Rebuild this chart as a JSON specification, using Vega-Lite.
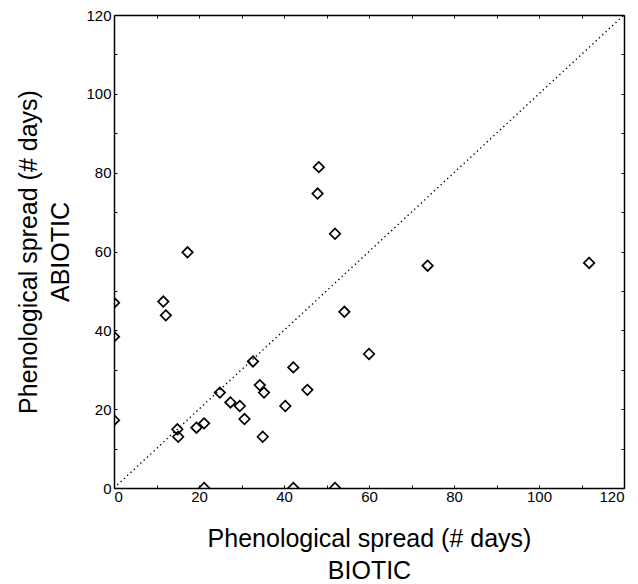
{
  "$schema": "https://vega.github.io/schema/vega-lite/v6.json",
  "autosize": "none",
  "padding": {"left": 114, "top": 15, "right": 14, "bottom": 96},
  "width": 510,
  "height": 473,
  "background": "white",
  "config": {
    "view": {"stroke": null},
    "font": "Liberation Sans",
    "axis": {
      "domainColor": "black", "domainWidth": 1.5,
      "tickColor": "black", "tickWidth": 1, "tickSize": -3,
      "labelFont": "Liberation Sans", "labelFontSize": 15, "labelColor": "black",
      "titleFont": "Liberation Sans", "titleFontSize": 25, "titleFontWeight": "normal", "titleColor": "black",
      "grid": false,
      "values": [0,4,8,12,16,20,24,28,32,36,40,44,48,52,56,60,64,68,72,76,80,84,88,92,96,100,104,108,112,116,120],
      "labelExpr": "datum.value % 20 == 0 ? datum.label : ''"
    }
  },
  "datasets": {
    "pts": [
      {"biotic": 0, "abiotic": 47.0},
      {"biotic": 0, "abiotic": 38.4},
      {"biotic": 0, "abiotic": 17.2},
      {"biotic": 11.6, "abiotic": 47.3},
      {"biotic": 12.2, "abiotic": 43.8},
      {"biotic": 17.3, "abiotic": 59.8},
      {"biotic": 14.9, "abiotic": 14.9},
      {"biotic": 15.1, "abiotic": 13.0},
      {"biotic": 19.4, "abiotic": 15.3},
      {"biotic": 21.2, "abiotic": 16.4},
      {"biotic": 21.2, "abiotic": 0},
      {"biotic": 24.9, "abiotic": 24.2},
      {"biotic": 27.4, "abiotic": 21.7},
      {"biotic": 29.6, "abiotic": 20.8},
      {"biotic": 30.7, "abiotic": 17.5},
      {"biotic": 32.7, "abiotic": 32.1},
      {"biotic": 34.3, "abiotic": 26.1},
      {"biotic": 35.3, "abiotic": 24.2},
      {"biotic": 35.0, "abiotic": 13.0},
      {"biotic": 40.3, "abiotic": 20.8},
      {"biotic": 42.2, "abiotic": 30.6},
      {"biotic": 42.2, "abiotic": 0},
      {"biotic": 45.5, "abiotic": 24.9},
      {"biotic": 48.2, "abiotic": 81.4},
      {"biotic": 47.9, "abiotic": 74.7},
      {"biotic": 52.0, "abiotic": 64.5},
      {"biotic": 52.0, "abiotic": 0},
      {"biotic": 54.2, "abiotic": 44.7},
      {"biotic": 60.0, "abiotic": 34.0},
      {"biotic": 73.8, "abiotic": 56.4},
      {"biotic": 111.8, "abiotic": 57.1}
    ],
    "diag": [
      {"biotic": 0, "abiotic": 0},
      {"biotic": 120, "abiotic": 120}
    ]
  },
  "layer": [
    {
      "data": {"name": "diag"},
      "mark": {"type": "line", "stroke": "black", "strokeWidth": 1.4, "strokeDash": [1.3, 3.2], "clip": true},
      "encoding": {
        "x": {"field": "biotic", "type": "quantitative",
              "scale": {"domain": [0, 120], "nice": false, "zero": false},
              "axis": {"orient": "bottom", "title": ["Phenological spread (# days)", "BIOTIC"], "titleLineHeight": 32, "titlePadding": 22, "labelPadding": 4}},
        "y": {"field": "abiotic", "type": "quantitative",
              "scale": {"domain": [0, 120], "nice": false, "zero": false},
              "axis": {"orient": "left", "title": ["Phenological spread (# days)", "ABIOTIC"], "titleLineHeight": 32, "titlePadding": 12, "labelPadding": 6}}
      }
    },
    {
      "data": {"name": "pts"},
      "mark": {"type": "point", "shape": "diamond", "filled": false, "stroke": "black", "strokeWidth": 1.7, "size": 110, "opacity": 1, "clip": true},
      "encoding": {
        "x": {"field": "biotic", "type": "quantitative",
              "scale": {"domain": [0, 120], "nice": false, "zero": false},
              "axis": {"orient": "top", "labels": false, "title": null}},
        "y": {"field": "abiotic", "type": "quantitative",
              "scale": {"domain": [0, 120], "nice": false, "zero": false},
              "axis": {"orient": "right", "labels": false, "title": null}}
      }
    }
  ],
  "resolve": {"axis": {"x": "independent", "y": "independent"}}
}
